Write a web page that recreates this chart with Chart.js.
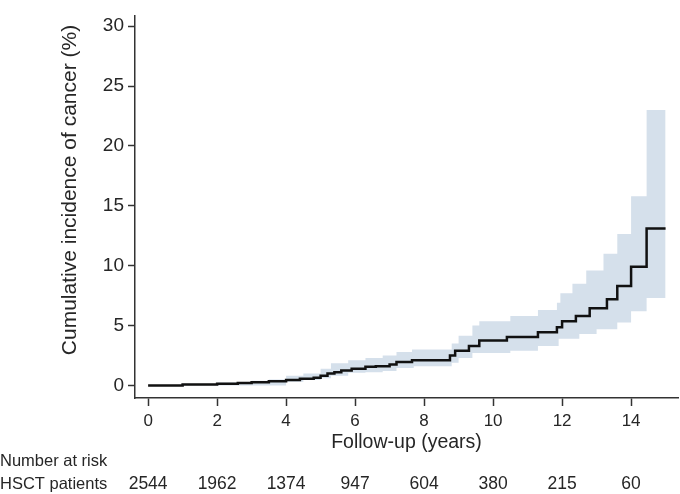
<!DOCTYPE html>
<html>
<head>
<meta charset="utf-8">
<script src="https://cdn.jsdelivr.net/npm/chart.js@4/dist/chart.umd.min.js"></script>
<style>
  body { margin: 0; background: #fff; }
  canvas { display: block; }
</style>
</head>
<body>
<canvas id="cifCanvas" width="680" height="494"></canvas>
<script>
// cumulative incidence estimate (step function, value holds until next time)
const estTimes = [0, 1.0, 2.0, 2.6, 3.0, 3.5, 4.0, 4.4, 4.8, 5.0, 5.2, 5.4, 5.6, 5.9, 6.3, 6.6, 7.0, 7.2, 7.65, 8.75, 8.9, 9.3, 9.6, 10.4, 11.3, 11.85, 12.0, 12.4, 12.8, 13.3, 13.6, 14.0, 14.45, 15.0];
const estValues = [0, 0.08, 0.15, 0.2, 0.27, 0.35, 0.45, 0.55, 0.65, 0.8, 1.0, 1.1, 1.25, 1.4, 1.55, 1.6, 1.75, 1.95, 2.1, 2.5, 2.9, 3.3, 3.75, 4.05, 4.45, 4.85, 5.35, 5.8, 6.45, 7.2, 8.3, 9.9, 13.1, 13.1];

// 95% CI band
const upperTimes = [0, 1.0, 2.0, 3.0, 3.5, 4.0, 4.5, 5.0, 5.3, 5.8, 6.3, 6.8, 7.2, 7.65, 8.8, 9.0, 9.4, 9.6, 10.5, 11.3, 11.85, 11.95, 12.3, 12.7, 13.2, 13.6, 14.0, 14.45, 15.0];
const upperValues = [0, 0.15, 0.25, 0.4, 0.5, 0.8, 1.0, 1.4, 1.85, 2.1, 2.3, 2.5, 2.8, 3.0, 3.5, 4.15, 5.0, 5.35, 5.8, 6.3, 6.9, 7.7, 8.5, 9.6, 11.0, 12.65, 15.8, 23.0, 23.0];
const lowerTimes = [0, 4.0, 4.5, 5.0, 5.3, 5.8, 6.3, 6.8, 7.2, 7.7, 8.8, 9.0, 9.4, 10.5, 11.3, 11.9, 12.5, 13.0, 13.6, 14.0, 14.45, 15.0];
const lowerValues = [0, 0.3, 0.45, 0.6, 0.8, 1.05, 1.1, 1.2, 1.45, 1.6, 1.9, 2.3, 2.7, 2.9, 3.3, 3.9, 4.3, 4.7, 5.25, 6.2, 7.3, 7.3];

// ticks and number at risk
const xTickValues = [0, 2, 4, 6, 8, 10, 12, 14];
const yTickValues = [0, 5, 10, 15, 20, 25, 30];
const riskTimes = [0, 2, 4, 6, 8, 10, 12, 14];
const riskCounts = [2544, 1962, 1374, 947, 604, 380, 215, 60];

const toPoints = (xs, ys) => xs.map((x, i) => ({ x: x, y: ys[i] }));

const FONT = "'Liberation Sans', Arial, Helvetica, sans-serif";
const AXIS = "#333333";
const TEXT = "#262626";
const BAND = "rgb(213, 224, 235)";

// y title + number at risk table under the axis
const extraText = {
  id: "extraText",
  afterDraw(chart) {
    const ctx = chart.ctx;
    const xs = chart.scales.x;
    ctx.save();
    ctx.fillStyle = TEXT;

    ctx.save();
    ctx.translate(70, 190);
    ctx.rotate(-Math.PI / 2);
    ctx.font = "21px " + FONT;
    ctx.textAlign = "center";
    ctx.textBaseline = "middle";
    ctx.fillText("Cumulative incidence of cancer (%)", 0, 0);
    ctx.restore();

    ctx.font = "16.5px " + FONT;
    ctx.textBaseline = "middle";
    ctx.textAlign = "left";
    ctx.fillText("Number at risk", 0, 461);
    ctx.fillText("HSCT patients", 0, 484);
    ctx.font = "17.5px " + FONT;
    ctx.textAlign = "center";
    riskTimes.forEach((t, i) => {
      ctx.fillText(String(riskCounts[i]), xs.getPixelForValue(t), 484);
    });
    ctx.restore();
  },
};

const ctx = document.getElementById("cifCanvas").getContext("2d");
new Chart(ctx, {
  type: "line",
  data: {
    datasets: [
      {
        label: "HSCT patients",
        data: toPoints(estTimes, estValues),
        stepped: true,
        borderWidth: 2.5,
        borderColor: "#111",
        pointRadius: 0,
        fill: false,
      },
      {
        label: "upper",
        data: toPoints(upperTimes, upperValues),
        stepped: true,
        borderWidth: 0,
        borderColor: BAND,
        backgroundColor: BAND,
        pointRadius: 0,
        fill: "+1",
      },
      {
        label: "lower",
        data: toPoints(lowerTimes, lowerValues),
        stepped: true,
        borderWidth: 0,
        borderColor: BAND,
        pointRadius: 0,
        fill: false,
      },
    ],
  },
  options: {
    responsive: false,
    animation: false,
    layout: { padding: { top: 2, right: 2, left: 0, bottom: 0 } },
    plugins: {
      legend: { display: false },
      tooltip: { enabled: false },
    },
    scales: {
      x: {
        type: "linear",
        min: -0.38,
        max: 15.36,
        afterBuildTicks: (scale) => {
          scale.ticks = xTickValues.map((v) => ({ value: v }));
        },
        afterFit: (scale) => {
          scale.height = 96;
        },
        grid: {
          drawOnChartArea: false,
          drawTicks: true,
          tickLength: 8,
          tickWidth: 1.5,
          tickColor: AXIS,
        },
        border: { display: true, color: AXIS, width: 1.5 },
        ticks: {
          color: TEXT,
          font: { family: FONT, size: 17 },
          padding: 5,
          maxRotation: 0,
        },
        title: {
          display: true,
          text: "Follow-up (years)",
          color: TEXT,
          font: { family: FONT, size: 19.5 },
          padding: { top: 0, bottom: 40 },
        },
      },
      y: {
        type: "linear",
        min: -1.05,
        max: 30.9,
        afterBuildTicks: (scale) => {
          scale.ticks = yTickValues.map((v) => ({ value: v }));
        },
        afterFit: (scale) => {
          scale.width = 135;
        },
        grid: {
          drawOnChartArea: false,
          drawTicks: true,
          tickLength: 7,
          tickWidth: 1.5,
          tickColor: AXIS,
        },
        border: { display: true, color: AXIS, width: 1.5 },
        ticks: {
          color: TEXT,
          font: { family: FONT, size: 19 },
          padding: 4,
        },
      },
    },
  },
  plugins: [extraText],
});
</script>
</body>
</html>
